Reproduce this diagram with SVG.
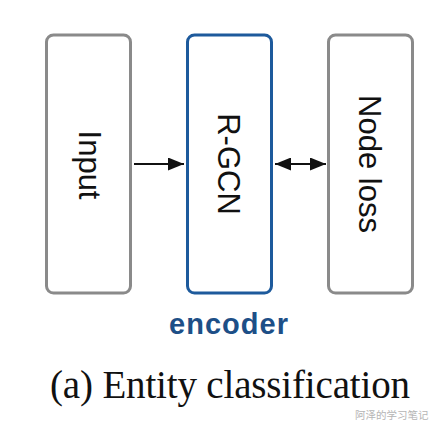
<svg xmlns="http://www.w3.org/2000/svg" width="445" height="430" viewBox="0 0 445 430">
  <style>
    .box { fill: #ffffff; stroke: #8a8a8a; stroke-width: 3; }
    .enc { fill: #ffffff; stroke: #1d5a9c; stroke-width: 3; }
    .lbl { font-family: "Liberation Sans", Arial, Helvetica, sans-serif; font-size: 31px; fill: #111111; text-anchor: middle; }
    .conn { stroke: #111111; stroke-width: 2; fill: none; }
  </style>
  <defs>
    <marker id="ah" viewBox="0 0 16 13" refX="16" refY="6.5" markerWidth="16" markerHeight="13" markerUnits="userSpaceOnUse" orient="auto-start-reverse">
      <path d="M0,0 L16,6.5 L0,13 Z" fill="#111111"/>
    </marker>
  </defs>
  <rect width="445" height="430" fill="#ffffff"/>
  <g id="input">
    <rect class="box" x="46.5" y="35" width="84" height="258" rx="7"/>
    <text class="lbl" transform="translate(79,165) rotate(90)">Input</text>
  </g>
  <g id="rgcn">
    <rect class="enc" x="187.5" y="35" width="84" height="258" rx="7"/>
    <text class="lbl" transform="translate(218,164) rotate(90)">R-GCN</text>
  </g>
  <g id="nodeloss">
    <rect class="box" x="328.5" y="35" width="84" height="258" rx="7"/>
    <text class="lbl" transform="translate(358.5,164) rotate(90)">Node loss</text>
  </g>
  <g id="connectors">
    <line class="conn" x1="134" y1="164" x2="184" y2="164" marker-end="url(#ah)"/>
    <line class="conn" x1="275" y1="164" x2="326" y2="164" marker-start="url(#ah)" marker-end="url(#ah)"/>
  </g>
  <g id="encoder-label">
    <text x="169" y="334" textLength="119" lengthAdjust="spacing" style="font-family: 'Liberation Sans', Arial, sans-serif; font-weight: bold; font-size: 29px; fill: #1d4f87;">encoder</text>
  </g>
  <g id="caption">
    <text x="50" y="398" textLength="360" lengthAdjust="spacing" style="font-family: 'Liberation Serif', 'Times New Roman', serif; font-size: 39px; fill: #111111;">(a) Entity classification</text>
  </g>
  <g id="watermark">
    <text x="355" y="419" style="font-family: 'Noto Sans CJK SC', sans-serif; font-size: 10.5px; fill: #b5b5b5;">阿泽的学习笔记</text>
  </g>
</svg>
